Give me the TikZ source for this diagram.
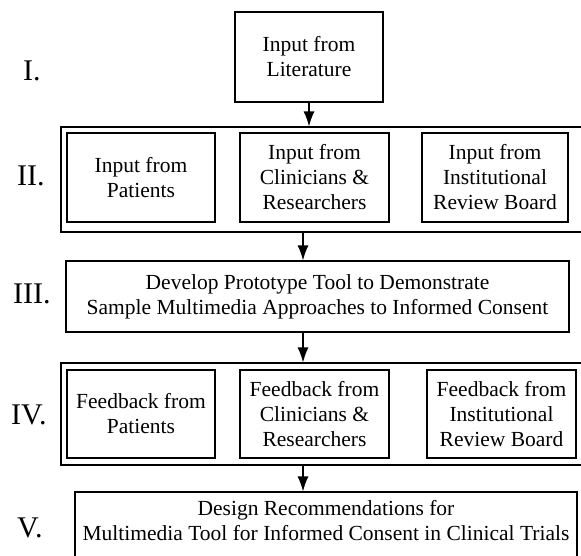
\documentclass[tikz,border=0pt]{standalone}
\usepackage{fontspec}
\setmainfont{Liberation Serif}
\usetikzlibrary{arrows.meta}
\begin{document}
\begin{tikzpicture}[x=1pt,y=-1pt,
  box/.style={draw, line width=1.2pt, inner sep=0pt, align=center,
    font=\fontsize{21.5}{25}\selectfont},
  grp/.style={draw, line width=1.2pt, inner sep=0pt},
  lbl/.style={anchor=base west, inner sep=0pt, font=\fontsize{30}{32}\selectfont},
  arr/.style={line width=1.2pt, -{Latex[length=15pt,width=11pt]}}]
\useasboundingbox (0,0) rectangle (581,555);
\fill[white] (0,0) rectangle (581,555);
\clip (0,0) rectangle (581,555);
% level I
\node[box, minimum width=148pt, minimum height=90pt] (lit) at (309,57) {Input from\\Literature};
% level II
\node[grp, minimum width=524pt, minimum height=105pt] (g2) at (323,179.5) {};
\node[box, minimum width=148pt, minimum height=89pt] (ipat) at (141,177.5) {Input from\\Patients};
\node[box, minimum width=149pt, minimum height=89pt] (iclin) at (314.5,177.5) {Input from\\Clinicians \&\\Researchers};
\node[box, minimum width=146pt, minimum height=89pt] (iirb) at (495,177.5) {Input from\\Institutional\\Review Board};
% level III
\node[box, minimum width=503pt, minimum height=71pt] (dev) at (317.5,296.5) {Develop Prototype Tool to Demonstrate\\Sample Multimedia Approaches to Informed Consent};
% level IV
\node[grp, minimum width=524pt, minimum height=102pt] (g4) at (323,414) {};
\node[box, minimum width=148pt, minimum height=88pt] (fpat) at (141,414) {Feedback from\\Patients};
\node[box, minimum width=149pt, minimum height=88pt] (fclin) at (314.5,414) {Feedback from\\Clinicians \&\\Researchers};
\node[box, minimum width=149pt, minimum height=88pt] (firb) at (501.5,414) {Feedback from\\Institutional\\Review Board};
% level V
\node[box, minimum width=502pt, minimum height=80pt] (des) at (326,532) {};
\node[align=center, inner sep=0pt, font=\fontsize{21.5}{25}\selectfont, anchor=north] (dest) at (326,500) {Design Recommendations for\\Multimedia Tool for Informed Consent in Clinical Trials};
% labels
\node[lbl] (l1) at (23,80) {I.};
\node[lbl] (l2) at (17,185) {II.};
\node[lbl] (l3) at (13,303) {III.};
\node[lbl] (l4) at (11,424) {IV.};
\node[lbl] (l5) at (17,537) {V.};
% arrows
\draw[arr] (lit.south) -- (lit.south |- g2.north);
\coordinate (ax) at (303,0);
\draw[arr] (ax |- g2.south) -- (ax |- dev.north);
\draw[arr] (ax |- dev.south) -- (ax |- g4.north);
\draw[arr] (ax |- g4.south) -- (ax |- des.north);
\end{tikzpicture}
\end{document}
